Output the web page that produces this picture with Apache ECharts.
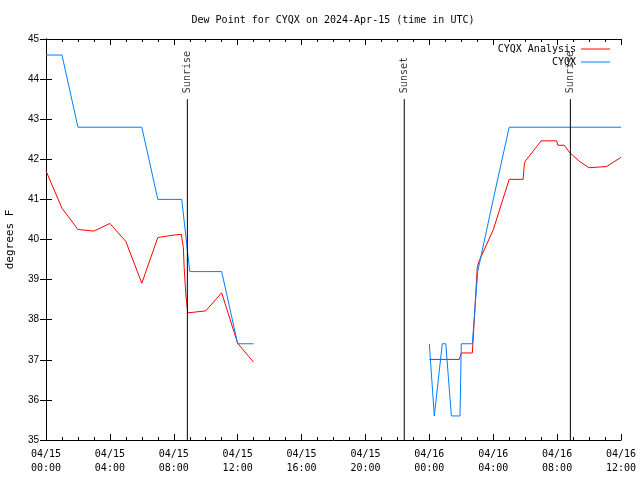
<!DOCTYPE html>
<html>
<head>
<meta charset="utf-8">
<script src="https://cdn.jsdelivr.net/npm/echarts@6/dist/echarts.min.js"></script>
<style>html,body{margin:0;padding:0;background:#fff}#c{width:640px;height:480px}</style>
</head>
<body>
<div id="c"></div>
<script>
// Hours since 2024-04-15 00:00 UTC
var tickLabels = ['04/15\n00:00','04/15\n04:00','04/15\n08:00','04/15\n12:00','04/15\n16:00','04/15\n20:00','04/16\n00:00','04/16\n04:00','04/16\n08:00','04/16\n12:00'];

var obsHours = [0,1,2,3,4,5,6,7,8,8.5,9,10,11,12,13,null,24.0,24.31,24.81,25.03,25.38,25.92,26.0,26.69,27.03,28,29,30,31,32,33,34,35,36];
var obsDew   = [44.6,44.6,42.8,42.8,42.8,42.8,42.8,41.0,41.0,41.0,39.2,39.2,39.2,37.4,37.4,null,37.4,35.6,37.4,37.4,35.6,35.6,37.4,37.4,39.2,41.0,42.8,42.8,42.8,42.8,42.8,42.8,42.8,42.8];

var anaHours = [0,1,2,3,4,5,6,7,8,8.47,8.6,8.65,8.75,8.88,9,10,11,12,13,null,24,25.88,26,26.69,26.75,27,27.1,28,29,29.87,29.95,30,31,31.97,32.05,32.45,32.8,33.43,34,35.1,36];
var anaDew   = [41.71,40.78,40.25,40.21,40.40,39.95,38.91,40.05,40.11,40.13,39.8,39.3,38.65,38.17,38.2,38.22,38.67,37.41,36.94,null,37.01,37.01,37.17,37.17,37.55,39.3,39.45,40.24,41.5,41.5,41.88,41.95,42.46,42.46,42.35,42.35,42.16,41.94,41.79,41.82,42.05];

var markerHours = [8.85, 22.43, 32.83];
var markerNames = ['Sunrise', 'Sunset', 'Sunrise'];
var markerTop = 43.5;

function pairs(xs, ys) {
  var out = [];
  for (var i = 0; i < xs.length; i++) {
    out.push(xs[i] === null ? ['-', '-'] : [xs[i], ys[i]]);
  }
  return out;
}

var mono = 'DejaVu Sans Mono';
var sans = 'Liberation Sans';

var series = [
  {name: 'CYQX Analysis', type: 'line', data: pairs(anaHours, anaDew), showSymbol: false, symbol: 'none',
   connectNulls: false, lineStyle: {color: '#ff0000', width: 1}, itemStyle: {color: '#ff0000'}, z: 3},
  {name: 'CYQX', type: 'line', data: pairs(obsHours, obsDew), showSymbol: false, symbol: 'none',
   connectNulls: false, lineStyle: {color: '#0080ff', width: 1}, itemStyle: {color: '#0080ff'}, z: 4}
];
markerHours.forEach(function (h, i) {
  series.push({type: 'line', data: [[h, 35], [h, markerTop]], showSymbol: false, symbol: 'none',
    lineStyle: {color: '#000', width: 1}, z: 5, silent: true});
  series.push({type: 'scatter', data: [[h, markerTop]], symbolSize: 0, silent: true, z: 6,
    label: {show: true, formatter: markerNames[i], position: 'top', distance: 6, rotate: 90,
      align: 'left', verticalAlign: 'middle', fontFamily: mono, fontSize: 10, color: '#000'}});
});

var axisLine = {show: true, lineStyle: {color: '#000', width: 1}};
var chart = echarts.init(document.getElementById('c'), null, {renderer: 'canvas'});
chart.setOption({
  animation: false,
  backgroundColor: '#fff',
  title: {text: 'Dew Point for CYQX on 2024-Apr-15 (time in UTC)', left: 333, textAlign: 'center', top: 14, padding: 0,
    textStyle: {fontFamily: mono, fontSize: 10, fontWeight: 'normal', color: '#000', lineHeight: 12}},
  legend: {data: ['CYQX Analysis', 'CYQX'], orient: 'vertical', right: 30, top: 43, align: 'right', padding: 0,
    icon: 'rect', itemWidth: 29, itemHeight: 1, itemGap: 1,
    textStyle: {fontFamily: mono, fontSize: 10, color: '#000', lineHeight: 12}},
  grid: {left: 46, right: 19, top: 39, bottom: 40, containLabel: false, outerBoundsMode: 'none'},
  xAxis: [
    {type: 'value', min: 0, max: 36, interval: 4, position: 'bottom', axisLine: axisLine,
     axisTick: {show: true, inside: true, length: 6, lineStyle: {color: '#000'}},
     minorTick: {show: true, splitNumber: 4, length: 3, lineStyle: {color: '#000'}},
     splitLine: {show: false},
     axisLabel: {formatter: function (v) { return tickLabels[Math.round(v / 4)]; }, margin: 7,
       fontFamily: mono, fontSize: 10, color: '#000', lineHeight: 14}},
    {type: 'value', min: 0, max: 36, interval: 4, position: 'top', axisLine: axisLine,
     axisTick: {show: true, inside: true, length: 6, lineStyle: {color: '#000'}},
     minorTick: {show: true, splitNumber: 4, length: 3, lineStyle: {color: '#000'}},
     splitLine: {show: false}, axisLabel: {show: false}}
  ],
  yAxis: [
    {type: 'value', min: 35, max: 45, interval: 1, position: 'left', axisLine: axisLine,
     axisTick: {show: true, inside: true, length: 6, lineStyle: {color: '#000'}},
     splitLine: {show: false},
     axisLabel: {margin: 7, fontFamily: sans, fontSize: 10, color: '#000'},
     name: 'degrees F', nameLocation: 'middle', nameGap: 30,
     nameTextStyle: {fontFamily: mono, fontSize: 11, color: '#000'}},
    {type: 'value', min: 35, max: 45, interval: 1, position: 'right', axisLine: axisLine,
     axisTick: {show: true, inside: true, length: 6, lineStyle: {color: '#000'}},
     splitLine: {show: false}, axisLabel: {show: false}}
  ],
  series: series
});
</script>
</body>
</html>
